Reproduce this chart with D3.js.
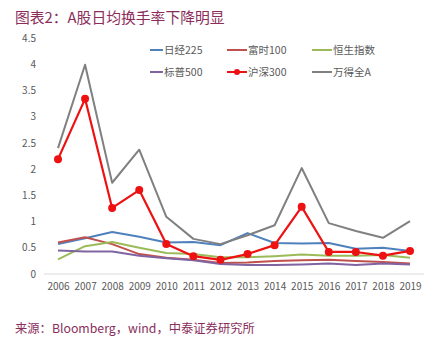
<!DOCTYPE html>
<html><head><meta charset="utf-8">
<script src="https://cdn.jsdelivr.net/npm/d3@7"></script>
<style>body{margin:0;background:#fff;}svg{display:block;}</style>
</head><body>
<svg id="c" width="440" height="342"></svg>
<script>
const years = [2006,2007,2008,2009,2010,2011,2012,2013,2014,2015,2016,2017,2018,2019];
const yTicks = [0,0.5,1,1.5,2,2.5,3,3.5,4,4.5];
const nikkei = [0.57,0.68,0.80,0.71,0.60,0.61,0.55,0.78,0.59,0.58,0.59,0.48,0.50,0.44];
const ftse = [0.60,0.70,0.57,0.38,0.31,0.27,0.21,0.22,0.25,0.26,0.27,0.25,0.23,0.20];
const hangseng = [0.28,0.53,0.61,0.50,0.40,0.38,0.32,0.32,0.34,0.37,0.35,0.35,0.36,0.31];
const sp500 = [0.45,0.43,0.43,0.35,0.30,0.26,0.19,0.17,0.17,0.18,0.20,0.17,0.20,0.18];
const hs300 = [2.19,3.34,1.26,1.60,0.57,0.34,0.27,0.38,0.55,1.28,0.42,0.42,0.35,0.44];
const windA = [2.40,3.99,1.74,2.37,1.09,0.67,0.57,0.74,0.93,2.02,0.97,0.82,0.69,1.01];
const seriesNames = ["日经225","富时100","恒生指数","标普500","沪深300","万得全A"];

const series = [
  {name:seriesNames[0], values:nikkei, color:"#4f81bd", marker:false},
  {name:seriesNames[1], values:ftse, color:"#c0504d", marker:false},
  {name:seriesNames[2], values:hangseng, color:"#9bbb59", marker:false},
  {name:seriesNames[3], values:sp500, color:"#8064a2", marker:false},
  {name:seriesNames[5], values:windA, color:"#808080", marker:false},
  {name:seriesNames[4], values:hs300, color:"#ee1111", marker:true}
];

const svg = d3.select("#c");
const font = "'Microsoft YaHei','Noto Sans CJK SC',sans-serif";
const x = d3.scalePoint().domain(years).range([58,410]);
const y = d3.scaleLinear().domain([0,4.5]).range([274,38]);

svg.append("text").attr("x",15).attr("y",23).attr("font-family",font).attr("font-size",14.8)
  .attr("fill","#8a2d5a").text("图表2：A股日均换手率下降明显");
svg.append("text").attr("x",15).attr("y",333).attr("font-family",font).attr("font-size",12.3)
  .attr("fill","#8a2d5a").text("来源：Bloomberg，wind，中泰证券研究所");

// baseline
svg.append("line").attr("x1",44).attr("x2",424).attr("y1",y(0)).attr("y2",y(0))
  .attr("stroke","#d9d9d9").attr("stroke-width",1);

// y axis labels
const ya = svg.append("g").attr("transform","translate(36,0)")
  .call(d3.axisLeft(y).tickValues(yTicks).tickSize(0).tickPadding(0).tickFormat(d=>String(d)));
ya.select(".domain").remove();
ya.selectAll("text").attr("font-family",font).attr("font-size",10).attr("fill","#595959");

const xa = svg.append("g").attr("transform","translate(0,280)")
  .call(d3.axisBottom(x).tickSize(0).tickPadding(3).tickFormat(d=>String(d)));
xa.select(".domain").remove();
xa.selectAll("text").attr("font-family",font).attr("font-size",10).attr("fill","#595959");

const line = d3.line().x((d,i)=>x(years[i])).y(d=>y(d));
series.forEach(s=>{
  svg.append("path").attr("d",line(s.values)).attr("fill","none")
    .attr("stroke",s.color).attr("stroke-width",s.marker?2.2:2).attr("stroke-linejoin","round");
  if(s.marker){
    svg.selectAll(null).data(s.values).enter().append("circle")
      .attr("cx",(d,i)=>x(years[i])).attr("cy",d=>y(d)).attr("r",4).attr("fill",s.color);
  }
});

// legend
const legendItems = [
  {name:seriesNames[0], color:"#4f81bd", marker:false, lx:150, ly:50},
  {name:seriesNames[1], color:"#c0504d", marker:false, lx:227, ly:50},
  {name:seriesNames[2], color:"#9bbb59", marker:false, lx:312, ly:50},
  {name:seriesNames[3], color:"#8064a2", marker:false, lx:150, ly:72},
  {name:seriesNames[4], color:"#ee1111", marker:true, lx:227, ly:72},
  {name:seriesNames[5], color:"#808080", marker:false, lx:312, ly:72}
];
legendItems.forEach((it,i)=>{
  const w = i%3===0 ? 13 : 20;
  const g = svg.append("g");
  g.append("line").attr("x1",it.lx).attr("x2",it.lx+w).attr("y1",it.ly).attr("y2",it.ly)
    .attr("stroke",it.color).attr("stroke-width",2);
  if(it.marker) g.append("circle").attr("cx",it.lx+w/2).attr("cy",it.ly).attr("r",3).attr("fill",it.color);
  g.append("text").attr("x",it.lx+w+1).attr("y",it.ly+4).attr("font-family",font)
    .attr("font-size",10.5).attr("fill","#595959").text(it.name);
});
</script>
</body></html>
